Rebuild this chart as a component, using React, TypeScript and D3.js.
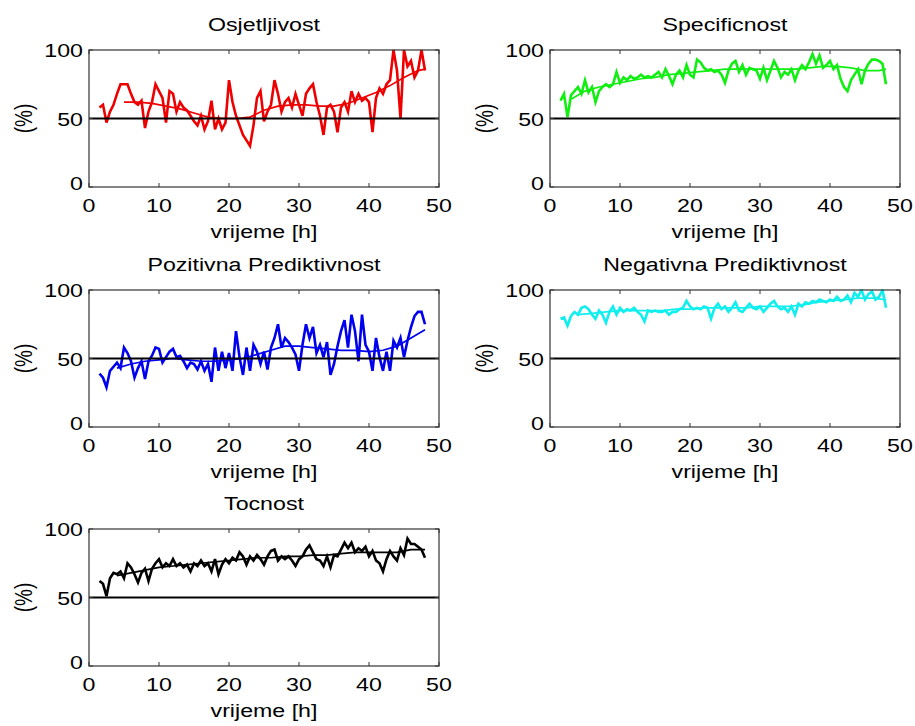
import React from "react";
import * as d3 from "d3";

// Time grid of the raw (noisy) series, hours
const HOURS = d3.range(1.5, 48.01, 0.5);
const SMOOTH_HOURS_A = [5, 7, 9, 11, 13, 15, 17, 19, 21, 23, 25, 27, 29, 31, 33, 35, 37, 39, 41, 43, 45, 47, 48];
const SMOOTH_HOURS_B = [3, 5, 7, 9, 11, 13, 15, 17, 19, 21, 23, 25, 27, 29, 31, 33, 35, 37, 39, 41, 43, 45, 47, 48];
const SMOOTH_HOURS_C = [4, 6, 8, 10, 12, 14, 16, 18, 20, 22, 24, 26, 28, 30, 32, 34, 36, 38, 40, 42, 44, 46, 48];

const TITLES = ["Osjetljivost", "Specificnost", "Pozitivna Prediktivnost", "Negativna Prediktivnost", "Tocnost"];
const COLORS = ["#ee0000", "#11ee11", "#0000ee", "#11eeee", "#000000"];
const X_TICKS = [0, 10, 20, 30, 40, 50];
const Y_TICKS = [0, 50, 100];
const X_LABEL = "vrijeme [h]";
const Y_LABEL = "(%)";
const REF_LEVEL = 50;

const osjetljivost = [
  58, 60, 47, 55, 60, 68, 75, 75, 75, 68,
  62, 60, 63, 43, 55, 62, 75, 70, 65, 47,
  70, 68, 55, 62, 58, 56, 52, 48, 45, 52,
  42, 48, 63, 42, 50, 42, 47, 78, 62, 52,
  45, 38, 34, 30, 45, 65, 70, 48, 55, 60,
  78, 68, 55, 62, 65, 58, 68, 60, 52, 68,
  72, 75, 62, 52, 38, 58, 60, 55, 40, 58,
  62, 55, 70, 62, 68, 63, 65, 62, 40, 65,
  72, 68, 75, 78, 100, 85, 50, 100, 88, 92,
  80, 85, 100, 85,
];
const osjetljivostSmooth = [62, 62, 61, 59, 57, 54, 51, 50, 50, 51, 56, 59, 60, 60, 59, 59, 61, 65, 69, 74, 80, 85, 86];

const specificnost = [
  63, 68, 51, 67, 70, 73, 68, 78, 69, 73,
  62, 70, 73, 75, 73, 75, 84, 76, 80, 78,
  81, 79, 80, 82, 80, 81, 80, 82, 84, 80,
  86, 81, 75, 82, 85, 80, 89, 82, 80, 93,
  91, 87, 85, 86, 84, 85, 82, 76, 85, 90,
  92, 84, 89, 82, 87, 86, 85, 79, 87, 78,
  85, 92, 87, 80, 84, 82, 86, 78, 85, 89,
  86, 91, 97, 90, 96, 87, 89, 92, 86, 89,
  79, 73, 70, 78, 82, 86, 75, 85, 90, 93,
  93, 92, 90, 75,
];
const specificnostSmooth = [64, 70, 73, 75, 77, 79, 80, 82, 83, 84, 85, 86, 86, 86, 86, 86, 86, 87, 88, 88, 87, 85, 85, 86];

const pozitivna = [
  39, 36, 29, 41, 44, 47, 43, 58, 54, 48,
  36, 43, 48, 35, 48, 52, 58, 57, 47, 51,
  55, 57, 51, 52, 48, 43, 47, 46, 42, 48,
  41, 46, 33, 58, 41, 55, 43, 54, 41, 70,
  51, 38, 58, 41, 60, 55, 46, 55, 42, 58,
  65, 75, 58, 65, 62, 58, 53, 41, 60, 75,
  65, 73, 54, 60, 51, 62, 38, 46, 59, 70,
  78, 58, 82, 70, 48, 82, 60, 55, 41, 65,
  51, 41, 55, 41, 63, 58, 65, 51, 63, 73,
  81, 84, 84, 75,
];
const pozitivnaSmooth = [43, 46, 48, 49, 50, 49, 48, 48, 49, 50, 53, 56, 59, 59, 58, 57, 56, 56, 55, 56, 59, 65, 71];

const negativna = [
  79, 80, 74, 81, 84, 82, 87, 88, 86, 82,
  79, 85, 82, 76, 84, 88, 82, 87, 84, 86,
  85, 87, 84, 82, 77, 85, 84, 85, 84, 84,
  85, 82, 84, 84, 86, 87, 92, 88, 86, 87,
  86, 88, 87, 79, 87, 90, 86, 88, 84, 87,
  91, 85, 84, 87, 90, 87, 86, 88, 84, 87,
  90, 92, 88, 86, 87, 84, 88, 82, 90, 88,
  91, 90, 92, 91, 93, 92, 91, 93, 92, 95,
  92, 93, 96, 91, 98, 95, 100, 93, 97, 99,
  93, 95, 100, 87,
];
const negativnaSmooth = [82, 83, 84, 85, 85, 85, 85, 86, 86, 87, 87, 87, 87, 88, 88, 88, 89, 91, 92, 93, 94, 94, 93];

const tocnost = [
  62, 60, 51, 64, 68, 67, 69, 64, 75, 72,
  67, 61, 68, 71, 62, 71, 75, 78, 72, 75,
  73, 78, 73, 75, 72, 74, 69, 75, 73, 77,
  73, 75, 69, 78, 67, 74, 78, 75, 79, 77,
  83, 80, 74, 80, 77, 81, 78, 74, 80, 84,
  85, 77, 80, 78, 80, 77, 73, 78, 80, 85,
  88, 83, 78, 77, 73, 80, 72, 81, 80, 85,
  90, 86, 90, 83, 86, 84, 87, 80, 84, 77,
  75, 69, 78, 84, 80, 77, 86, 81, 93, 89,
  89, 87, 85, 79,
];
const tocnostSmooth = [66, 68, 70, 72, 73, 74, 75, 76, 77, 78, 79, 79, 80, 80, 81, 81, 82, 83, 83, 83, 83, 85, 85];

const RAW = [osjetljivost, specificnost, pozitivna, negativna, tocnost];
const SMOOTH = [osjetljivostSmooth, specificnostSmooth, pozitivnaSmooth, negativnaSmooth, tocnostSmooth];
const SMOOTH_HOURS = [SMOOTH_HOURS_A, SMOOTH_HOURS_B, SMOOTH_HOURS_C, SMOOTH_HOURS_C, SMOOTH_HOURS_C];

// layout
const W = 915;
const H = 726;
const COL_LEFT = [89, 550];
const ROW_TOP = [50, 290, 529];
const PW = 350;
const PH = 137;
const SX = 1.22; // horizontal stretch of the reference text
const FONT = "'Liberation Sans', Arial, Helvetica, sans-serif";
const FS = 19;

type TProps = { x: number; y: number; anchor?: string; rotate?: boolean; children: React.ReactNode };
function T({ x, y, anchor = "middle", rotate = false, children }: TProps) {
  const tr = rotate
    ? `translate(${x},${y}) scale(${SX},1) rotate(-90)`
    : `translate(${x},${y}) scale(${SX},1)`;
  return (
    <text transform={tr} textAnchor={anchor} fontFamily={FONT} fontSize={FS} fill="#000">
      {children}
    </text>
  );
}

function Panel({ idx }: { idx: number }) {
  const left = COL_LEFT[idx % 2];
  const top = ROW_TOP[Math.floor(idx / 2)];
  const x = d3.scaleLinear().domain([0, 50]).range([left, left + PW]);
  const y = d3.scaleLinear().domain([0, 100]).range([top + PH, top]);
  const raw = RAW[idx];
  const sm = SMOOTH[idx];
  const smH = SMOOTH_HOURS[idx];
  const line = d3
    .line<[number, number]>()
    .x((d) => x(d[0]))
    .y((d) => y(d[1]));
  const rawPts: [number, number][] = raw.map((v, i) => [HOURS[i], v]);
  const smPts: [number, number][] = sm.map((v, i) => [smH[i], v]);
  const color = COLORS[idx];
  const tl = 4;
  return (
    <g>
      <defs>
        <clipPath id={`clip${idx}`}>
          <rect x={left} y={top - 1} width={PW} height={PH + 2} />
        </clipPath>
      </defs>
      <rect x={left} y={top} width={PW} height={PH} fill="#fff" stroke="none" />
      <g clipPath={`url(#clip${idx})`}>
        <path d={line(rawPts) ?? ""} fill="none" stroke={color} strokeWidth={2.6} strokeLinejoin="miter" />
        <path d={line(smPts) ?? ""} fill="none" stroke={color} strokeWidth={1.7} />
      </g>
      <line x1={left} x2={left + PW} y1={y(REF_LEVEL)} y2={y(REF_LEVEL)} stroke="#000" strokeWidth={2} />
      {X_TICKS.map((t) => (
        <g key={`xt${t}`}>
          <line x1={x(t)} x2={x(t)} y1={top + PH} y2={top + PH - tl} stroke="#333" strokeWidth={1} />
          <line x1={x(t)} x2={x(t)} y1={top} y2={top + tl} stroke="#333" strokeWidth={1} />
          <T x={x(t)} y={top + PH + 25}>{t}</T>
        </g>
      ))}
      {Y_TICKS.map((t) => (
        <g key={`yt${t}`}>
          <line x1={left} x2={left + tl} y1={y(t)} y2={y(t)} stroke="#333" strokeWidth={1} />
          <line x1={left + PW} x2={left + PW - tl} y1={y(t)} y2={y(t)} stroke="#333" strokeWidth={1} />
          <T x={left - 6} y={y(t) + 7 - (t === 0 ? 4 : 0)} anchor="end">{t}</T>
        </g>
      ))}
      <rect x={left} y={top} width={PW} height={PH} fill="none" stroke="#333" strokeWidth={1.2} />
      <T x={left + PW / 2} y={top - 19}>{TITLES[idx]}</T>
      <T x={left + PW / 2} y={top + PH + 51}>{X_LABEL}</T>
      <T x={left - 57} y={top + PH / 2} rotate>{Y_LABEL}</T>
    </g>
  );
}

export default function App() {
  return (
    <svg
      width={W}
      height={H}
      viewBox={`0 0 ${W} ${H}`}
      style={{ position: "absolute", left: 0, top: 0, background: "#fff" }}
    >
      <rect x={0} y={0} width={W} height={H} fill="#fff" />
      {TITLES.map((_, i) => (
        <Panel key={i} idx={i} />
      ))}
    </svg>
  );
}
